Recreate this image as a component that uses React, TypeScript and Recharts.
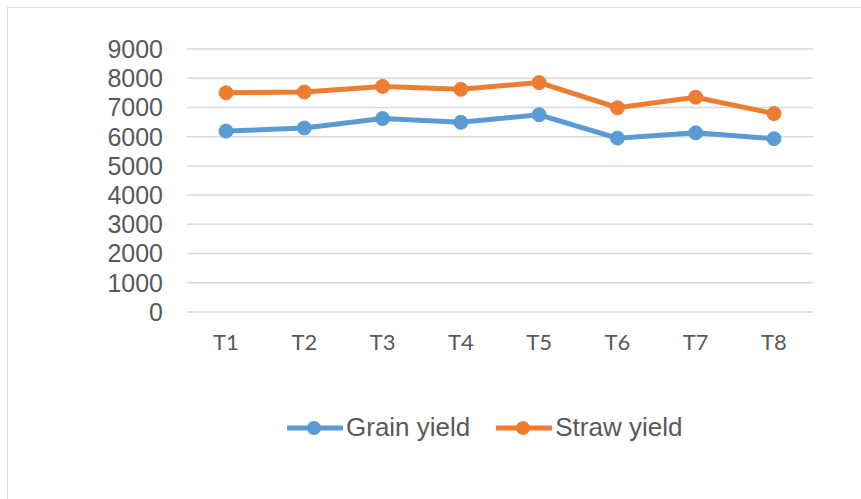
import { LineChart, Line, XAxis, YAxis, CartesianGrid, Legend } from 'recharts';

const treatments = ['T1', 'T2', 'T3', 'T4', 'T5', 'T6', 'T7', 'T8'];
const grainYield = [6190, 6300, 6620, 6490, 6750, 5950, 6130, 5930];
const strawYield = [7500, 7530, 7720, 7620, 7850, 6990, 7350, 6790];
const yTicks = [0, 1000, 2000, 3000, 4000, 5000, 6000, 7000, 8000, 9000];

const data = treatments.map((t, i) => ({ name: t, grain: grainYield[i], straw: strawYield[i] }));

const textColor = '#595959';

const LegendContent = (props: any) => {
  const { payload } = props;
  return (
    <div style={{ display: 'flex', justifyContent: 'flex-start', paddingLeft: 287, alignItems: 'center' }}>
      {(payload || []).map((item: any) => (
        <div key={item.value} style={{ display: 'flex', alignItems: 'center', marginRight: 26 }}>
          <svg width={56} height={16}>
            <line x1={0} y1={8} x2={56} y2={8} stroke={item.color} strokeWidth={5} strokeLinecap="round" />
            <circle cx={27} cy={8} r={7} fill={item.color} />
          </svg>
          <span style={{ fontFamily: '"Liberation Sans", Arial, sans-serif', fontSize: 26, color: textColor, marginLeft: 3 }}>
            {item.value}
          </span>
        </div>
      ))}
    </div>
  );
};

export default function App() {
  return (
    <div style={{ position: 'absolute', left: 0, top: 0, width: 861, height: 499, background: '#fff' }}>
      <div style={{ position: 'absolute', left: 7, top: 7, width: 900, height: 600, border: '1.5px solid #d9d9d9' }} />
      <div style={{ position: 'absolute', left: 0, top: 0 }}>
        <LineChart width={861} height={499} data={data} margin={{ top: 49, right: 48, left: 0, bottom: 167 }}>
          <CartesianGrid vertical={false} stroke="#d9d9d9" strokeWidth={1.5} />
          <XAxis
            dataKey="name"
            axisLine={false}
            tickLine={false}
            tickSize={0}
            tickMargin={22}
            height={20}
            padding={{ left: 39, right: 39 }}
            tick={{ fill: textColor, fontSize: 22, fontFamily: 'Lato, "Open Sans", sans-serif' }}
          />
          <YAxis
            width={187}
            domain={[0, 9000]}
            ticks={yTicks}
            interval={0}
            axisLine={false}
            tickLine={false}
            tickSize={0}
            tickMargin={24}
            tick={{ fill: textColor, fontSize: 25, fontFamily: '"Liberation Sans", Arial, sans-serif' }}
          />
          <Legend
            verticalAlign="middle"
            align="center"
            layout="horizontal"
            wrapperStyle={{ top: 412, left: 0, width: 861 }}
            content={<LegendContent />}
          />
          <Line
            type="linear"
            dataKey="grain"
            name="Grain yield"
            stroke="#5B9BD5"
            strokeWidth={5}
            dot={{ r: 7, fill: '#5B9BD5', stroke: '#5B9BD5', strokeWidth: 1 }}
            activeDot={false}
            isAnimationActive={false}
          />
          <Line
            type="linear"
            dataKey="straw"
            name="Straw yield"
            stroke="#ED7D31"
            strokeWidth={5}
            dot={{ r: 7, fill: '#ED7D31', stroke: '#ED7D31', strokeWidth: 1 }}
            activeDot={false}
            isAnimationActive={false}
          />
        </LineChart>
      </div>
    </div>
  );
}
